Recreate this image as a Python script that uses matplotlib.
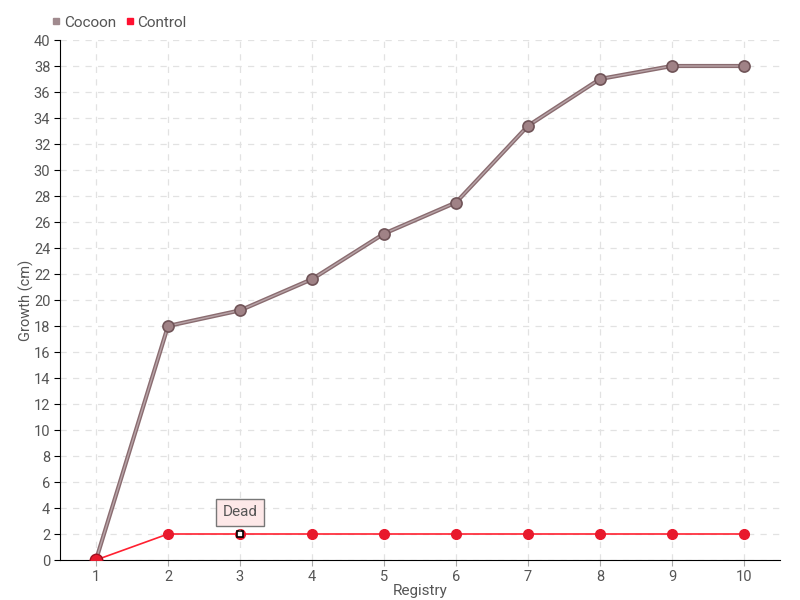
import matplotlib
matplotlib.use("Agg")
import matplotlib.pyplot as plt
from matplotlib.lines import Line2D

registry = [1, 2, 3, 4, 5, 6, 7, 8, 9, 10]
cocoon = [0, 18, 19.2, 21.6, 25.1, 27.5, 33.4, 37, 38, 38]
control = [0, 2, 2, 2, 2, 2, 2, 2, 2, 2]
yticks = list(range(0, 41, 2))

plt.rcParams['font.family'] = ['Roboto', 'DejaVu Sans']
txt = '#555555'

fig = plt.figure(figsize=(8, 6), dpi=100)
ax = fig.add_axes([60/800, 40/600, 720/800, 520/600])
ax.set_xlim(0.5, 10.5)
ax.set_ylim(0, 40)

ax.grid(True, color='#e2e2e2', linestyle=(0, (5, 5)), linewidth=0.9)
ax.set_axisbelow(True)
for s in ['top', 'right']:
    ax.spines[s].set_visible(False)
ax.spines['left'].set_color('black')
ax.spines['bottom'].set_color('black')

ax.set_xticks(registry)
ax.set_yticks(yticks)
ax.tick_params(axis='both', labelsize=10.5, colors=txt, length=4, pad=3)
ax.tick_params(axis='y', color='black')
ax.tick_params(axis='x', color='#aaaaaa')

# Cocoon
ax.plot(registry, cocoon, color='#8a6c70', linewidth=3.0, zorder=3)
ax.plot(registry, cocoon, color='#b8a4a8', linewidth=1.0, zorder=3)
ax.plot(registry, cocoon, linestyle='none', marker='o', markersize=8,
        markerfacecolor='#a08286', markeredgecolor='#705458', markeredgewidth=1.2, zorder=4)

# Control
ax.plot(registry, control, color='#ff2030', linewidth=1.2, zorder=5)
ax.plot(registry, control, linestyle='none', marker='o', markersize=7,
        markerfacecolor='#e8192c', markeredgecolor='#e8192c', zorder=6)
ax.plot([registry[0]], [control[0]], linestyle='none', marker='o', markersize=9,
        markerfacecolor='#e8192c', markeredgecolor='#a01020', zorder=6)
# Dead marker
ax.plot([registry[2]], [control[2]], linestyle='none', marker='s', markersize=5,
        markerfacecolor='white', markeredgecolor='black', markeredgewidth=1.2, zorder=7)
ax.annotate('Dead', xy=(registry[2], control[2]), xytext=(0, 15.5), textcoords='offset points',
            ha='center', va='center', fontsize=11, color=txt,
            bbox=dict(boxstyle='square,pad=0.45', fc='#fde8e8', ec='#777777', lw=1),
            arrowprops=dict(arrowstyle='-', color='#777777', lw=0.8), zorder=8)

ax.set_xlabel('Registry', fontsize=11, color=txt, labelpad=0)
ax.set_ylabel('Growth (cm)', fontsize=10.5, color=txt)
ax.yaxis.set_label_coords(-26/720, 0.5)

handles = [Line2D([], [], linestyle='none', marker='s', markersize=5, color='#a08a8e'),
           Line2D([], [], linestyle='none', marker='s', markersize=5, color='#ff1030')]
fig.legend(handles, ['Cocoon', 'Control'], loc='upper left', bbox_to_anchor=(44/800, 1 - 8/600),
           ncol=2, frameon=False, fontsize=11, handlelength=0.6, handletextpad=0.2,
           columnspacing=0.6, labelcolor=txt, borderpad=0)

fig.savefig('out.png', dpi=100)
